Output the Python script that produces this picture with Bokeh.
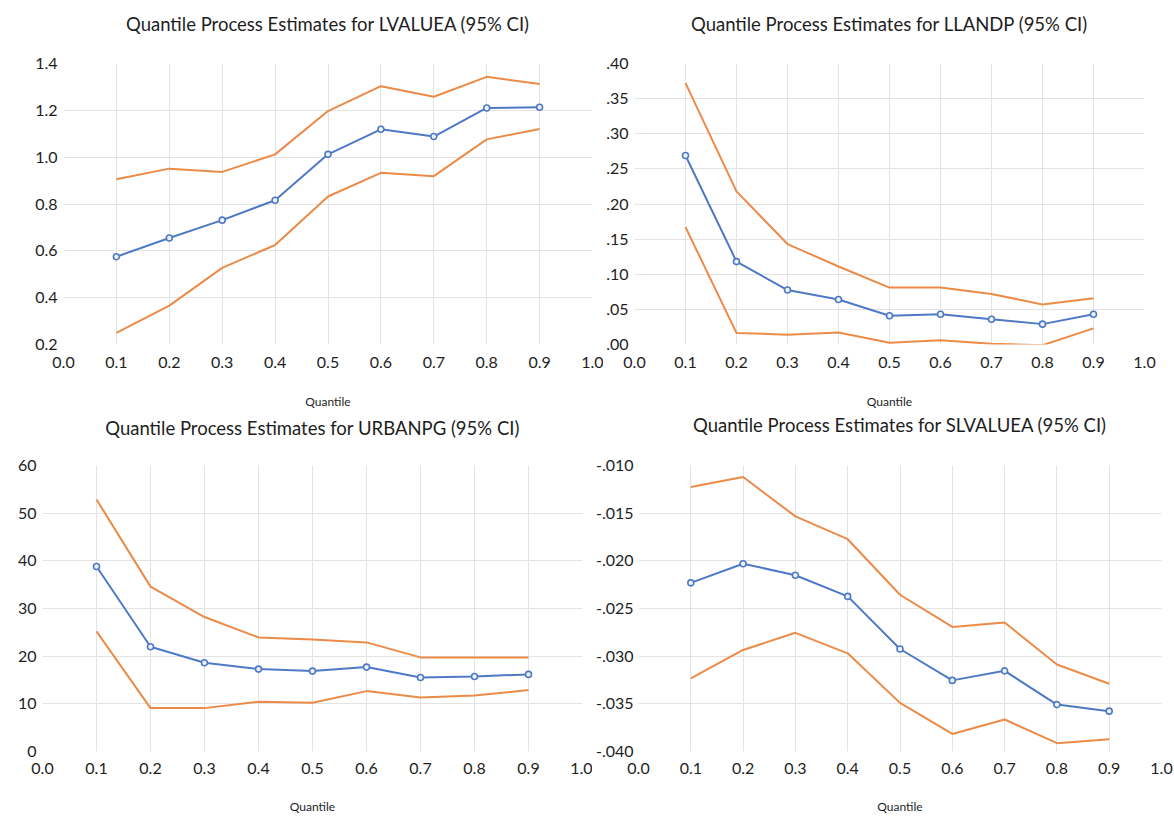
from bokeh.plotting import figure
from bokeh.layouts import column, row
from bokeh.models import Range1d, FixedTicker, PrintfTickFormatter, CustomJSTickFormatter, Title
from bokeh.embed import file_html
from bokeh.resources import INLINE

# ---------------- data ----------------
quantiles = [0.1, 0.2, 0.3, 0.4, 0.5, 0.6, 0.7, 0.8, 0.9]
x_ticks = [0.0, 0.1, 0.2, 0.3, 0.4, 0.5, 0.6, 0.7, 0.8, 0.9, 1.0]

lvaluea_est = [0.575, 0.655, 0.731, 0.816, 1.012, 1.119, 1.088, 1.210, 1.213]
lvaluea_hi = [0.906, 0.951, 0.937, 1.012, 1.197, 1.303, 1.258, 1.343, 1.312]
lvaluea_lo = [0.250, 0.366, 0.527, 0.625, 0.832, 0.933, 0.919, 1.076, 1.120]
lvaluea_ticks = [0.2, 0.4, 0.6, 0.8, 1.0, 1.2, 1.4]

llandp_est = [0.269, 0.118, 0.0775, 0.064, 0.041, 0.043, 0.036, 0.029, 0.043]
llandp_hi = [0.372, 0.218, 0.143, 0.111, 0.081, 0.081, 0.072, 0.057, 0.066]
llandp_lo = [0.167, 0.0165, 0.014, 0.017, 0.0024, 0.006, 0.001, -0.001, 0.023]
llandp_ticks = [0.0, 0.05, 0.10, 0.15, 0.20, 0.25, 0.30, 0.35, 0.40]

urbanpg_est = [38.8, 21.98, 18.62, 17.29, 16.87, 17.71, 15.54, 15.75, 16.17]
urbanpg_hi = [52.86, 34.59, 28.21, 23.94, 23.52, 22.89, 19.74, 19.74, 19.74]
urbanpg_lo = [25.2, 9.1, 9.1, 10.43, 10.22, 12.67, 11.34, 11.76, 12.88]
urbanpg_ticks = [0, 10, 20, 30, 40, 50, 60]

slvaluea_est = [-0.02231, -0.0203, -0.02151, -0.02373, -0.02925, -0.03254, -0.03154, -0.03508, -0.03577]
slvaluea_hi = [-0.01225, -0.01121, -0.01534, -0.01773, -0.02356, -0.02693, -0.02647, -0.03088, -0.03289]
slvaluea_lo = [-0.03234, -0.02935, -0.02755, -0.0297, -0.0349, -0.03816, -0.03664, -0.03913, -0.03872]
slvaluea_ticks = [-0.040, -0.035, -0.030, -0.025, -0.020, -0.015, -0.010]

titles = [
    "Quantile Process Estimates for LVALUEA (95% CI)",
    "Quantile Process Estimates for LLANDP (95% CI)",
    "Quantile Process Estimates for URBANPG (95% CI)",
    "Quantile Process Estimates for SLVALUEA (95% CI)",
]
x_label = "Quantile"

BLUE = "#4E79C6"
ORANGE = "#EC8A48"
GRID = "#e3e3e3"
TEXT = "#1e1e1e"
FONT = "Lato"


def make_panel(title, est, hi, lo, yticks, yfmt, width, height,
               bl, br, bt, bb, title_gap, tick_standoff, label_standoff, ylab_standoff=6):
    p = figure(width=width, height=height, output_backend="svg", toolbar_location=None,
               x_range=Range1d(0.0, 1.0), y_range=Range1d(yticks[0], yticks[-1]),
               min_border_left=bl, min_border_right=br, min_border_top=bt, min_border_bottom=bb)
    p.outline_line_color = None
    # empty spacer between the frame and the title
    spacer = Title(text=" ", text_font_size="1px", standoff=title_gap)
    p.add_layout(spacer, "above")
    t = Title(text=title, align="center", text_font=FONT, text_font_size="18.5px",
              text_font_style="normal", text_color=TEXT, standoff=0)
    p.add_layout(t, "above")

    p.xaxis.ticker = FixedTicker(ticks=x_ticks)
    p.xaxis.formatter = PrintfTickFormatter(format="%.1f")
    p.yaxis.ticker = FixedTicker(ticks=yticks)
    p.yaxis.formatter = yfmt
    for ax in (p.xaxis, p.yaxis):
        ax.axis_line_color = None
        ax.major_tick_line_color = None
        ax.minor_tick_line_color = None
        ax.major_tick_out = 0
        ax.major_tick_in = 0
        ax.major_label_text_font = FONT
        ax.major_label_text_font_size = "16px"
        ax.major_label_text_color = TEXT
    p.xaxis.major_label_standoff = tick_standoff
    p.yaxis.major_label_standoff = ylab_standoff
    p.xaxis.axis_label = x_label
    p.xaxis.axis_label_text_font = FONT
    p.xaxis.axis_label_text_font_size = "12px"
    p.xaxis.axis_label_text_font_style = "normal"
    p.xaxis.axis_label_text_color = TEXT
    p.xaxis.axis_label_standoff = label_standoff

    p.xgrid.ticker = FixedTicker(ticks=quantiles)
    p.ygrid.ticker = FixedTicker(ticks=yticks[1:-1])
    p.xgrid.grid_line_color = GRID
    p.ygrid.grid_line_color = GRID

    p.line(quantiles, hi, line_color=ORANGE, line_width=2)
    p.line(quantiles, lo, line_color=ORANGE, line_width=2)
    p.line(quantiles, est, line_color=BLUE, line_width=2)
    p.scatter(quantiles, est, marker="circle", size=6, line_color=BLUE,
              line_width=1.6, fill_color="#eef2fa")
    return p


fmt1 = PrintfTickFormatter(format="%.1f")
fmt2 = CustomJSTickFormatter(code='return tick.toFixed(2).replace("0.", ".");')
fmt3 = PrintfTickFormatter(format="%d")
fmt4 = CustomJSTickFormatter(code='return tick.toFixed(3).replace("0.", ".");')

p1 = make_panel(titles[0], lvaluea_est, lvaluea_hi, lvaluea_lo, lvaluea_ticks, fmt1,
                603, 411, 63, 11, 63, 66, 26, 12, 23)
p2 = make_panel(titles[1], llandp_est, llandp_hi, llandp_lo, llandp_ticks, fmt2,
                571, 411, 28, 30, 63, 66, 26, 12, 23)
p3 = make_panel(titles[2], urbanpg_est, urbanpg_hi, urbanpg_lo, urbanpg_ticks, fmt3,
                592, 405, 42, 10, 54, 64, 24, 11, 22)
p4 = make_panel(titles[3], slvaluea_est, slvaluea_hi, slvaluea_lo, slvaluea_ticks, fmt4,
                582, 405, 44, 13, 54, 64, 27, 11, 22, 5)

layout = column(row(p1, p2, spacing=0), row(p3, p4, spacing=0), spacing=0)

open("out.html", "w").write(file_html(layout, INLINE))
